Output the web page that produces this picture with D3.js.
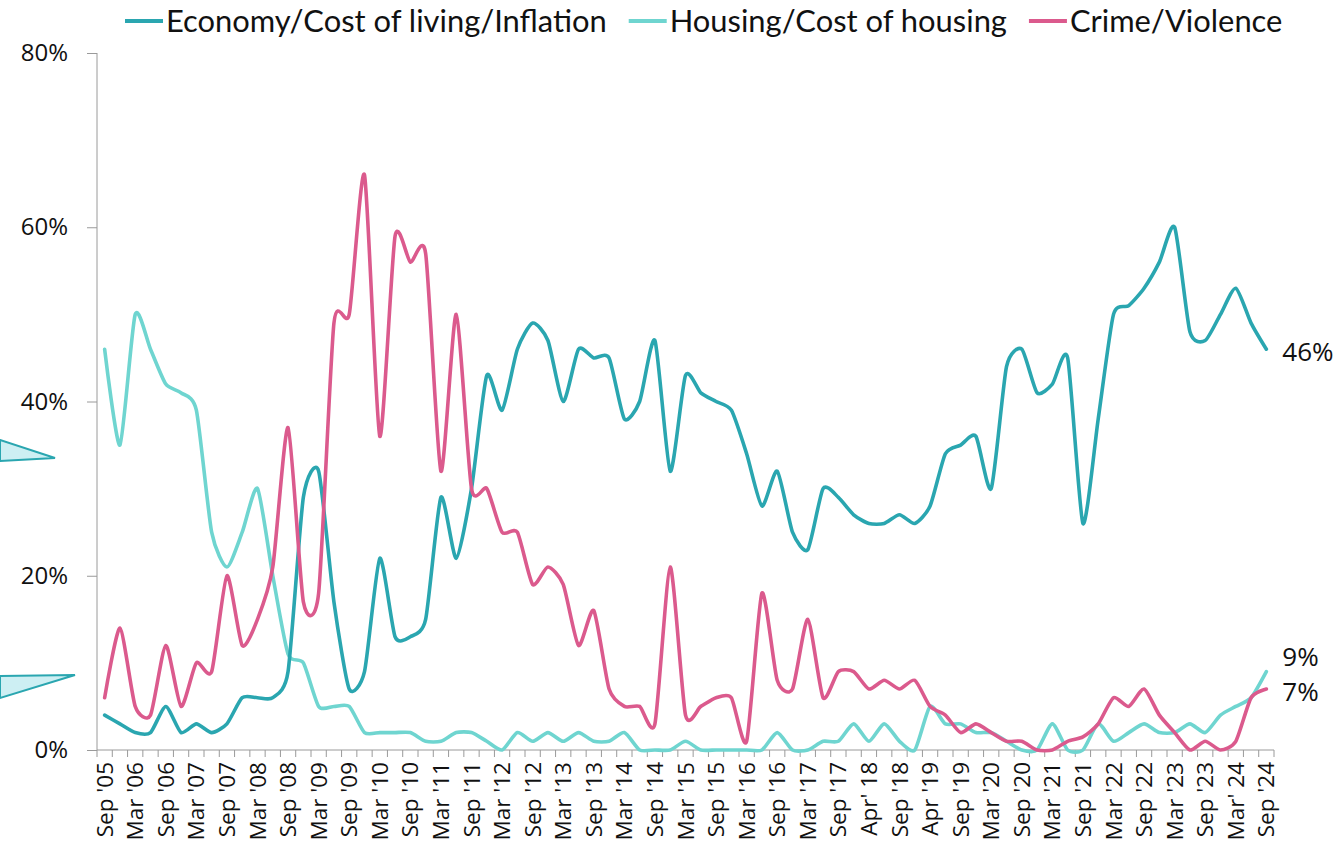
<!DOCTYPE html>
<html>
<head>
<meta charset="utf-8">
<script src="https://cdn.jsdelivr.net/npm/d3@7"></script>
<style>
  html, body { margin: 0; padding: 0; background: #fff; }
  svg { display: block; }
</style>
</head>
<body>
<svg id="chart" width="1343" height="850"></svg>
<script>
// ---------------- DATA ----------------
const categories = [
  "Sep '05","Dec '05","Mar '06","Jun '06","Sep '06","Dec '06","Mar '07","Jun '07",
  "Sep '07","Dec '07","Mar '08","Jun '08","Sep '08","Dec '08","Mar '09","Jun '09",
  "Sep '09","Dec '09","Mar '10","Jun '10","Sep '10","Dec '10","Mar '11","Jun '11",
  "Sep '11","Dec '11","Mar '12","Jun '12","Sep '12","Dec '12","Mar '13","Jun '13",
  "Sep '13","Dec '13","Mar '14","Jun '14","Sep '14","Dec '14","Mar '15","Jun '15",
  "Sep '15","Dec '15","Mar '16","Jun '16","Sep '16","Dec '16","Mar '17","Jun '17",
  "Sep '17","Dec '17","Apr' 18","Jun '18","Sep '18","Dec '18","Apr '19","Jun '19",
  "Sep '19","Dec '19","Mar '20","Jun '20","Sep '20","Dec '20","Mar '21","Jun '21",
  "Sep '21","Dec '21","Mar '22","Jun '22","Sep '22","Dec '22","Mar '23","Jun '23",
  "Sep '23","Dec '23","Mar' 24","Jun '24","Sep '24"
];
// every other category carries a label
const labelledCategories = categories.filter((c, i) => i % 2 === 0);

const economy = [
  4, 3, 2, 2, 5, 2, 3, 2, 3, 6, 6, 6, 9, 29, 32, 17,
  7, 9, 22, 13, 13, 15, 29, 22, 30, 43, 39, 46, 49, 47, 40, 46,
  45, 45, 38, 40, 47, 32, 43, 41, 40, 39, 34, 28, 32, 25, 23, 30,
  29, 27, 26, 26, 27, 26, 28, 34, 35, 36, 30, 44, 46, 41, 42, 45,
  26, 38, 50, 51, 53, 56, 60, 48, 47, 50, 53, 49, 46
];
const housing = [
  46, 35, 50, 46, 42, 41, 39, 25, 21, 25, 30, 20, 11, 10, 5, 5,
  5, 2, 2, 2, 2, 1, 1, 2, 2, 1, 0, 2, 1, 2, 1, 2,
  1, 1, 2, 0, 0, 0, 1, 0, 0, 0, 0, 0, 2, 0, 0, 1,
  1, 3, 1, 3, 1, 0, 5, 3, 3, 2, 2, 1, 0, 0, 3, 0,
  0, 3, 1, 2, 3, 2, 2, 3, 2, 4, 5, 6, 9
];
const crime = [
  6, 14, 5, 4, 12, 5, 10, 9, 20, 12, 15, 21, 37, 17, 18, 49,
  50, 66, 36, 59, 56, 57, 32, 50, 30, 30, 25, 25, 19, 21, 19, 12,
  16, 7, 5, 5, 3, 21, 4, 5, 6, 6, 1, 18, 8, 7, 15, 6,
  9, 9, 7, 8, 7, 8, 5, 4, 2, 3, 2, 1, 1, 0, 0, 1,
  1.5, 3, 6, 5, 7, 4, 2, 0, 1, 0, 1, 6, 7
];
const seriesNames = ["Economy/Cost of living/Inflation", "Housing/Cost of housing", "Crime/Violence"];
const seriesColors = ["#2AA6B0", "#6FD5D0", "#DB5A8D"];
const yTicks = [0, 20, 40, 60, 80];

// ---------------- LAYOUT ----------------
const svg = d3.select("#chart");
const plotLeft = 97, plotRight = 1274, plotTop = 53, plotBottom = 750;

const x = d3.scaleBand().domain(categories).range([plotLeft, plotRight]).padding(0);
const y = d3.scaleLinear().domain([0, 80]).range([plotBottom, plotTop]);
const cx = c => x(c) + x.bandwidth() / 2;

const axisColor = "#9a9a9a";
const font = "Lato, 'Open Sans', sans-serif";
const tickFont = "'Open Sans', Lato, sans-serif";

// decorative callout wedges at left edge
svg.append("polygon").attr("points", "0,440 55,458 0,461")
  .attr("fill", "#CDEFF3").attr("stroke", "#2AA6B0").attr("stroke-width", 2);
svg.append("polygon").attr("points", "0,676 75,675 0,698")
  .attr("fill", "#CDEFF3").attr("stroke", "#2AA6B0").attr("stroke-width", 2);

// Y axis
const yAxis = svg.append("g").attr("transform", `translate(${plotLeft},0)`)
  .call(d3.axisLeft(y).tickValues(yTicks).tickFormat(d => d + "%").tickSize(10).tickPadding(19));
yAxis.select(".domain").attr("stroke", axisColor).attr("d", `M0,${plotTop}V${plotBottom}`);
yAxis.selectAll(".tick line").attr("stroke", axisColor);
yAxis.selectAll(".tick text").attr("font-family", tickFont).attr("font-size", 24).attr("fill", "#111");

// X axis (labels at every other category, ticks at every category boundary)
const xAxis = svg.append("g").attr("transform", `translate(0,${plotBottom})`)
  .call(d3.axisBottom(x).tickValues(labelledCategories).tickSize(0).tickPadding(0));
xAxis.select(".domain").attr("stroke", axisColor).attr("d", `M${plotLeft},0H${plotRight}`);
xAxis.selectAll(".tick text")
  .attr("font-family", tickFont).attr("font-size", 22.5).attr("fill", "#111")
  .attr("transform", "rotate(-90)")
  .attr("x", -12).attr("y", 0).attr("dy", "0.36em")
  .style("text-anchor", "end");
const boundaries = categories.map(c => x(c)).concat([x(categories[categories.length - 1]) + x.bandwidth()]);
xAxis.selectAll(".bt").data(boundaries).join("line")
  .attr("class", "bt")
  .attr("x1", d => d).attr("x2", d => d)
  .attr("y1", 0).attr("y2", 7)
  .attr("stroke", axisColor);

// Lines (smoothed, with limited overshoot)
const line = d3.line()
  .x((d, i) => cx(categories[i]))
  .y(d => y(d))
  .curve(d3.curveCardinal.tension(0.35));

const allSeries = [economy, housing, crime];
[1, 0, 2].forEach(k => {
  svg.append("path")
    .datum(allSeries[k])
    .attr("fill", "none")
    .attr("stroke", seriesColors[k])
    .attr("stroke-width", 3.6)
    .attr("stroke-linejoin", "round")
    .attr("stroke-linecap", "round")
    .attr("d", line);
});

// End labels
const lastCat = categories[categories.length - 1];
const endX = cx(lastCat) + 16;
const endLabels = [
  { v: economy[economy.length - 1], dy: 3 },
  { v: housing[housing.length - 1], dy: -15 },
  { v: crime[crime.length - 1], dy: 3 }
];
svg.selectAll(".endlab").data(endLabels).join("text")
  .attr("class", "endlab")
  .attr("x", endX)
  .attr("y", d => y(d.v) + d.dy)
  .attr("dy", "0.35em")
  .attr("font-family", tickFont).attr("font-size", 26).attr("fill", "#111")
  .text(d => d.v + "%");

// Legend: size the font so the first entry spans the same width as in the reference
const legend = svg.append("g");
const probe = legend.append("text").attr("font-family", font).attr("font-size", 28).text(seriesNames[0]);
const legendSize = 28 * 441 / probe.node().getComputedTextLength();
probe.remove();
let lx = 125;
const ly = 21;
seriesNames.forEach((name, k) => {
  legend.append("line")
    .attr("x1", lx).attr("x2", lx + 38).attr("y1", ly).attr("y2", ly)
    .attr("stroke", seriesColors[k]).attr("stroke-width", 4);
  const t = legend.append("text")
    .attr("x", lx + 41).attr("y", ly).attr("dy", "0.35em")
    .attr("font-family", font).attr("font-size", legendSize).attr("fill", "#111")
    .text(name);
  const w = t.node().getComputedTextLength();
  lx = lx + 41 + w + 22;
});
</script>
</body>
</html>
